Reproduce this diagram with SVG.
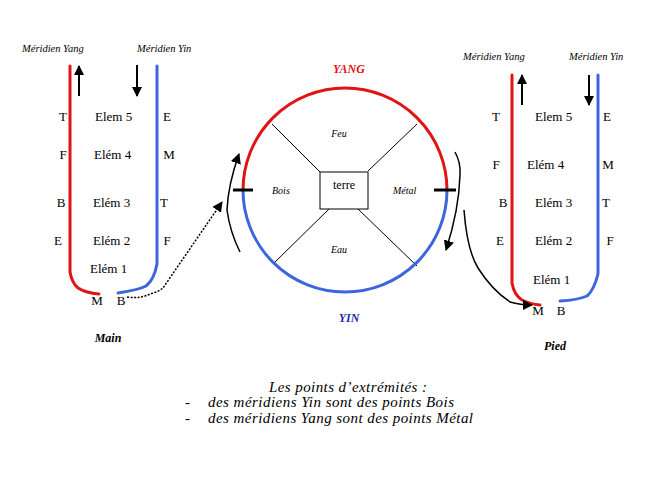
<svg xmlns="http://www.w3.org/2000/svg" width="659" height="478" viewBox="0 0 659 478">
<defs>
<marker id="ah" viewBox="0 0 10 10" refX="9" refY="5" markerWidth="5" markerHeight="5" orient="auto" markerUnits="strokeWidth">
<path d="M0,0 L10,5 L0,10 z" fill="#000"/>
</marker>
<marker id="ahs" viewBox="0 0 10 10" refX="9" refY="5" markerWidth="7" markerHeight="7" orient="auto" markerUnits="strokeWidth">
<path d="M0,0 L10,5 L0,10 z" fill="#000"/>
</marker>
<style>
text{font-family:'Liberation Serif','DejaVu Serif',serif;fill:#000}
.t{font-size:13px}
.s{font-size:10.5px;font-style:italic}
.c{font-size:10px;font-style:italic}
.b{font-size:12px;font-style:italic;font-weight:bold}
.cap{font-size:15px;font-style:italic}
.red{fill:none;stroke:#e01414;stroke-width:3;stroke-linejoin:round;stroke-linecap:round}
.blue{fill:none;stroke:#3d66dd;stroke-width:3;stroke-linejoin:round;stroke-linecap:round}
.arr{fill:none;stroke:#000;stroke-width:2;marker-end:url(#ah)}
.cur{fill:none;stroke:#000;stroke-width:1.5;marker-end:url(#ahs)}
.thin{stroke:#000;stroke-width:1;fill:none}
</style>
</defs>

<g id="main-meridians">
<text class="s" x="22" y="52">Méridien Yang</text>
<text class="s" x="137" y="52">Méridien Yin</text>
<path class="red" d="M70,66 L70,272 Q72,283 78,288 Q86,293 99,294"/>
<path class="blue" d="M157,66 L157,264 Q154,280 146,286 Q138,290 118,293"/>
<line class="arr" x1="79" y1="96" x2="79" y2="66"/>
<line class="arr" x1="137" y1="65" x2="137" y2="96"/>
<text class="t" x="63" y="121" text-anchor="middle">T</text>
<text class="t" x="95" y="121">Elem 5</text>
<text class="t" x="167" y="121" text-anchor="middle">E</text>
<text class="t" x="63" y="159" text-anchor="middle">F</text>
<text class="t" x="94" y="159">Elém 4</text>
<text class="t" x="169" y="159" text-anchor="middle">M</text>
<text class="t" x="61" y="207" text-anchor="middle">B</text>
<text class="t" x="93" y="207">Elém 3</text>
<text class="t" x="164" y="207" text-anchor="middle">T</text>
<text class="t" x="58" y="245" text-anchor="middle">E</text>
<text class="t" x="93" y="245">Elém 2</text>
<text class="t" x="167" y="245" text-anchor="middle">F</text>
<text class="t" x="90" y="273">Elém 1</text>
<text class="t" x="97" y="305" text-anchor="middle">M</text>
<text class="t" x="121" y="305" text-anchor="middle">B</text>
<text class="b" x="108" y="342" text-anchor="middle">Main</text>
</g>

<g id="cycle">
<text class="b" x="349" y="73" text-anchor="middle" style="fill:#e01414">YANG</text>
<line class="thin" x1="272" y1="124" x2="320" y2="172"/>
<line class="thin" x1="417" y1="124" x2="368" y2="171"/>
<line class="thin" x1="273" y1="264" x2="329" y2="209"/>
<line class="thin" x1="417" y1="266" x2="358" y2="209"/>
<path class="red" d="M243,190 A102,102 0 0 1 447,190"/>
<path class="blue" d="M447,190 A102,102 0 1 1 243,190"/>
<line x1="233" y1="190" x2="253" y2="190" stroke="#000" stroke-width="3"/>
<line x1="434" y1="190" x2="456" y2="190" stroke="#000" stroke-width="3"/>
<rect x="320" y="172" width="48" height="37" fill="#fff" stroke="#000" stroke-width="1"/>
<text class="t" x="344" y="189" text-anchor="middle" style="font-size:12px">terre</text>
<text class="c" x="339" y="137" text-anchor="middle">Feu</text>
<text class="c" x="272" y="194">Bois</text>
<text class="c" x="393" y="194">Métal</text>
<text class="c" x="339" y="253" text-anchor="middle">Eau</text>
<text class="b" x="349" y="322" text-anchor="middle" style="fill:#2a2aa8">YIN</text>
</g>

<g id="foot-meridians">
<text class="s" x="463" y="60">Méridien Yang</text>
<text class="s" x="569" y="60">Méridien Yin</text>
<path class="red" d="M512,75 L512,283 Q514,295 522,300 Q530,304 540,305"/>
<path class="blue" d="M598,75 L598,274 Q594,290 587,296 Q578,300 560,301"/>
<line class="arr" x1="522" y1="105" x2="522" y2="75"/>
<line class="arr" x1="589" y1="75" x2="589" y2="105"/>
<text class="t" x="496" y="121" text-anchor="middle">T</text>
<text class="t" x="535" y="121">Elem 5</text>
<text class="t" x="607" y="121" text-anchor="middle">E</text>
<text class="t" x="496" y="169" text-anchor="middle">F</text>
<text class="t" x="527" y="169">Elém 4</text>
<text class="t" x="608" y="169" text-anchor="middle">M</text>
<text class="t" x="503" y="207" text-anchor="middle">B</text>
<text class="t" x="535" y="207">Elém 3</text>
<text class="t" x="606" y="207" text-anchor="middle">T</text>
<text class="t" x="500" y="245" text-anchor="middle">E</text>
<text class="t" x="535" y="245">Elém 2</text>
<text class="t" x="610" y="245" text-anchor="middle">F</text>
<text class="t" x="533" y="284">Elém 1</text>
<text class="t" x="538" y="315" text-anchor="middle">M</text>
<text class="t" x="561" y="315" text-anchor="middle">B</text>
<text class="b" x="555" y="350" text-anchor="middle">Pied</text>
</g>

<g id="connectors">
<path class="cur" d="M127,297 Q140,299 150,294 Q158,292 163,288 L222,202" stroke-dasharray="2,1.5"/>
<path class="cur" d="M240,252 Q230,232 227,210 Q228,185 239,154"/>
<path class="cur" d="M455,152 Q461,163 460,175 Q459,210 446,250"/>
<path class="cur" d="M464,210 Q467,250 478,268 Q492,290 510,302 Q520,305 532,305"/>
</g>

<g id="caption">
<text class="cap" x="269" y="392" textLength="158">Les points d’extrémités :</text>
<text class="cap" x="185" y="407">-</text>
<text class="cap" x="208" y="407" textLength="246">des méridiens Yin sont des points Bois</text>
<text class="cap" x="185" y="423">-</text>
<text class="cap" x="208" y="423" textLength="265">des méridiens Yang sont des points Métal</text>
</g>
</svg>
